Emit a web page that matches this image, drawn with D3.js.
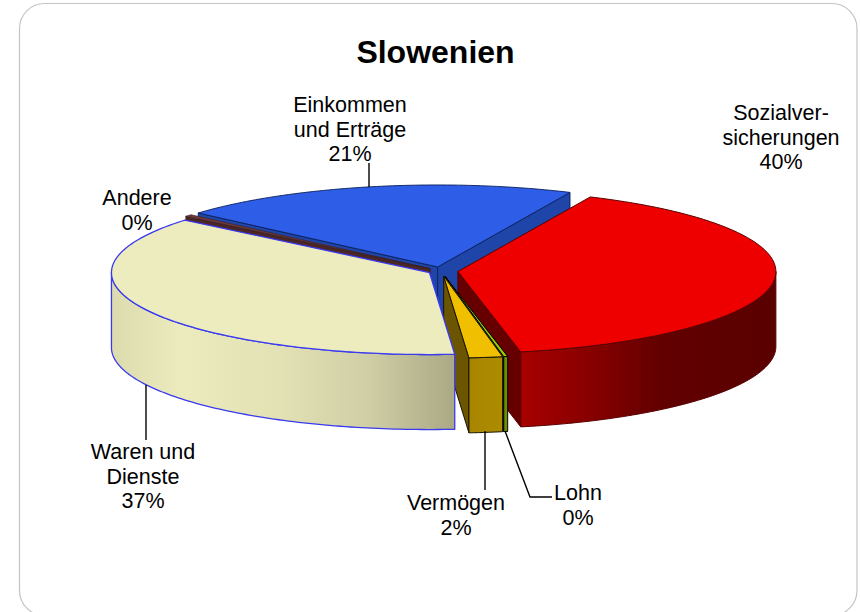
<!DOCTYPE html>
<html><head><meta charset="utf-8">
<script src="https://d3js.org/d3.v7.min.js"></script>
<style>html,body{margin:0;padding:0;background:#fff}svg{display:block}</style>
</head><body><svg id="c" width="860" height="612"></svg>
<script>
const chartTitle = "Slowenien";
const categories = ["Sozialversicherungen","Lohn","Vermögen","Waren und Dienste","Andere","Einkommen und Erträge"];
const values = [40.0,0.2,1.7,37.3,0.4,20.4];
const percentLabels = ["40%","0%","2%","37%","0%","21%"];
const labelLines = [["Sozialver-","sicherungen"],["Lohn"],["Vermögen"],["Waren und","Dienste"],["Andere"],["Einkommen","und Erträge"]];
const drawOrder = [5,4,0,1,2,3];

const W=860,H=612;
const svg=d3.select("#c");
const defs=svg.append("defs");
const FONT="Liberation Sans, Arial, sans-serif";

// frame
svg.append("rect").attr("x",19.5).attr("y",3.5).attr("width",837.5).attr("height",612).attr("rx",25).attr("ry",25)
  .attr("fill","#fff").attr("stroke","#c4c4c4").attr("stroke-width",1.2);

svg.append("text").attr("x",435.5).attr("y",63).attr("text-anchor","middle")
  .attr("font-family",FONT).attr("font-weight","bold").attr("font-size",32).attr("fill","#000").text(chartTitle);

const cx=441,cy=271,rx=318,ry=82,depth=75;
const deg=Math.PI/180;
const start=24.6*deg;
const arcs=d3.pie().sort(null).startAngle(start).endAngle(start+2*Math.PI)(values);
const explode=[17,20,20,13,14,16];
const styles=[
 {top:"#ee0000",cut:"#660000",stroke:"#5a0000",sw:1,stops:[[0,"#a80000"],[.25,"#8a0000"],[.55,"#620000"],[1,"#5a0000"]]},
 {top:"#99cc00",cut:"#4d6600",stroke:"#000",sw:1,stops:[[0,"#6f8f00"],[1,"#6f8f00"]]},
 {top:"#efbf00",cut:"#6b5500",stroke:"#1a1400",sw:1,stops:[[0,"#a88500"],[1,"#ad8c00"]]},
 {top:"#edecbf",cut:"#8a8a70",stroke:"#3a3af0",sw:1.3,stops:[[0,"#dcdbae"],[.2,"#ecebbd"],[.5,"#e2e1b4"],[.75,"#cfcea5"],[1,"#aaa985"]]},
 {top:"#6d3b3b",cut:"#4a2626",stroke:"#3a1f1f",sw:.6,stops:[[0,"#6d3b3b"],[1,"#6d3b3b"]]},
 {top:"#2e5ee8",cut:"#1f45a8",stroke:"#0a1f5c",sw:.9,stops:[[0,"#1f45a8"],[1,"#1f45a8"]]}
];
const line=d3.line();
function pt(a,o,dy){return [o[0]+rx*Math.sin(a),o[1]-ry*Math.cos(a)+(dy||0)];}
function arcPts(a0,a1,o,dy){
  const n=Math.max(2,Math.ceil(Math.abs(a1-a0)/(1*deg)));
  return d3.range(n+1).map(i=>pt(a0+(a1-a0)*i/n,o,dy));
}
const norm=a=>((a%(2*Math.PI))+2*Math.PI)%(2*Math.PI);
const g=svg.append("g");

drawOrder.forEach(i=>{
  const d=arcs[i], s=styles[i];
  const mid=(d.startAngle+d.endAngle)/2;
  const o=[cx+explode[i]*Math.sin(mid), cy-explode[i]*Math.cos(mid)*ry/rx];
  const a0=d.startAngle,a1=d.endAngle;
  const base={stroke:s.stroke,"stroke-width":s.sw,"stroke-linejoin":"round"};
  const p=(pts,fill)=>{const e=g.append("path").attr("d",line(pts)+"Z").attr("fill",fill);
     Object.entries(base).forEach(([k,v])=>e.attr(k,v));return e;};
  const cutFace=a=>{const q=pt(a,o);return [o,q,[q[0],q[1]+depth],[o[0],o[1]+depth]];};
  const ns=norm(a0),ne=norm(a1);
  if(ns>Math.PI) p(cutFace(a0),s.cut);
  if(ne<Math.PI) p(cutFace(a1),s.cut);
  // outer wall, lower half only
  const lo=Math.max(a0,90*deg), hi=Math.min(a1,270*deg);
  if(hi>lo){
    const top=arcPts(lo,hi,o,0), bot=arcPts(lo,hi,o,depth).reverse();
    const xs=top.map(q=>q[0]);
    const id="wall"+i;
    const gr=defs.append("linearGradient").attr("id",id).attr("gradientUnits","userSpaceOnUse")
      .attr("x1",d3.min(xs)).attr("x2",d3.max(xs)).attr("y1",0).attr("y2",0);
    s.stops.forEach(v=>gr.append("stop").attr("offset",v[0]).attr("stop-color",v[1]));
    p(top.concat(bot),"url(#"+id+")");
  }
  p([o].concat(arcPts(a0,a1,o,0)),s.top);
});

// leader lines
const leaders=[[[369,163],[369,187]],[[146,385],[146,440]],[[485,431],[485,490]],[[505,431],[530,497],[552,497]]];
leaders.forEach(l=>svg.append("path").attr("d",d3.line()(l)).attr("fill","none").attr("stroke","#000").attr("stroke-width",1.4));

// labels: [category index, centre x, first baseline]
const labelPlace=[[0,781,120],[1,578,500],[2,456,510],[3,143,459],[4,137,205],[5,350,112]];
labelPlace.forEach(([i,x,y])=>{
  const t=svg.append("text").attr("font-family",FONT).attr("font-size",21.5).attr("text-anchor","middle").attr("fill","#000");
  labelLines[i].concat([percentLabels[i]]).forEach((s,k)=>t.append("tspan").attr("x",x).attr("y",y+k*24.5).text(s));
});
</script></body></html>
